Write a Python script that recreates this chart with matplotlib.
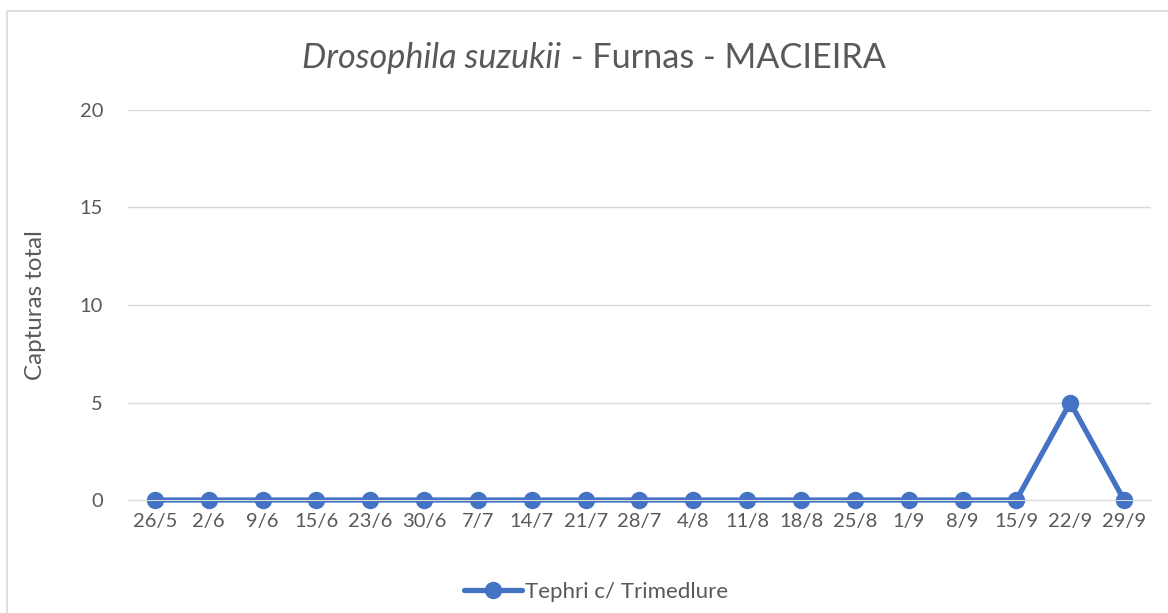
import matplotlib as mpl
mpl.use('Agg')
import matplotlib.pyplot as plt

datas = ['26/5', '2/6', '9/6', '15/6', '23/6', '30/6', '7/7', '14/7', '21/7', '28/7',
         '4/8', '11/8', '18/8', '25/8', '1/9', '8/9', '15/9', '22/9', '29/9']
capturas = [0, 0, 0, 0, 0, 0, 0, 0, 0, 0, 0, 0, 0, 0, 0, 0, 0, 5, 0]
yticks = [0, 5, 10, 15, 20]

plt.rcParams['font.family'] = ['Lato', 'DejaVu Sans']
cinza = '#595959'
azul = '#4472C4'

fig = plt.figure(figsize=(11.68, 6.13), dpi=100)
# moldura do grafico
fig.patches.append(plt.Rectangle((7 / 1168, -0.01), 1.02, 1 - 11 / 613 + 0.01,
                                 transform=fig.transFigure, fill=False,
                                 edgecolor='#d9d9d9', linewidth=1.2))

ax = fig.add_axes([0.1096, 0.1843, 0.8758, 0.6363])
x = list(range(len(datas)))
ax.plot(x, capturas, color=azul, linewidth=3.8, marker='o', markersize=11.5,
        label='Tephri c/ Trimedlure', solid_capstyle='round', clip_on=False)

ax.set_xlim(-0.5, len(datas) - 0.5)
ax.set_ylim(0, 20)
ax.set_yticks(yticks)
ax.set_xticks(x)
ax.set_xticklabels(datas)
ax.grid(axis='y', color='#d9d9d9', linewidth=1)
ax.set_axisbelow(True)
for s in ['top', 'right', 'left']:
    ax.spines[s].set_visible(False)
ax.spines['bottom'].set_color('#d9d9d9')
ax.tick_params(length=0, labelsize=14.5, colors=cinza, pad=9)
ax.tick_params(axis='y', pad=18)

ax.set_ylabel('Capturas total', fontsize=17.4, color=cinza, labelpad=24)

# titulo: parte em italico + parte normal, centrado
tam = 24.7
fig.canvas.draw()
r = fig.canvas.get_renderer()
t1 = fig.text(0, 0.905, 'Drosophila suzukii', style='italic', fontsize=tam,
              color=cinza, ha='left', va='center')
t2 = fig.text(0, 0.905, ' - Furnas - MACIEIRA', fontsize=tam, color=cinza,
              ha='left', va='center')
w1 = t1.get_window_extent(r).width / 1168
w2 = t2.get_window_extent(r).width / 1168
x0 = 0.5086 - (w1 + w2) / 2
t1.set_x(x0)
t2.set_x(x0 + w1)

leg = ax.legend(loc='center', bbox_to_anchor=(0.4575, -0.235), frameon=False,
                fontsize=16, handlelength=2.6, handletextpad=0.15)
for t in leg.get_texts():
    t.set_color(cinza)

fig.savefig('out.png', dpi=100)
